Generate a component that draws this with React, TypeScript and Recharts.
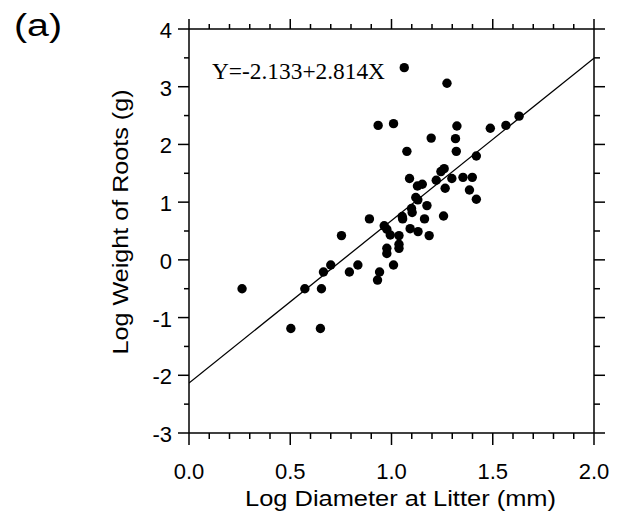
import React from 'react';
import { ScatterChart, Scatter, XAxis, YAxis, ReferenceLine } from 'recharts';

// log diameter at litter (mm)
const logDiameter = [
  1.063, 1.274, 0.934, 1.01, 1.323, 1.488, 1.565, 1.63, 1.196, 1.316,
  1.076, 1.32, 1.419, 1.244, 1.26, 1.089, 1.221, 1.298, 1.353, 1.399,
  1.128, 1.152, 1.265, 1.385, 1.419, 1.12, 1.13, 1.175, 1.099, 1.102,
  1.053, 1.055, 0.891, 1.163, 1.257, 0.964, 0.977, 0.994, 1.037, 1.092,
  1.131, 1.186, 0.753, 1.037, 1.037, 0.977, 0.977, 0.7, 0.834, 1.01,
  0.664, 0.792, 0.941, 0.931, 0.262, 0.572, 0.654, 0.503, 0.649,
];
// log weight of roots (g)
const logWeight = [
  3.33, 3.06, 2.33, 2.36, 2.32, 2.28, 2.33, 2.49, 2.11, 2.1,
  1.88, 1.88, 1.8, 1.53, 1.58, 1.41, 1.38, 1.41, 1.43, 1.43,
  1.28, 1.31, 1.24, 1.21, 1.05, 1.08, 1.04, 0.94, 0.89, 0.82,
  0.75, 0.71, 0.71, 0.71, 0.76, 0.59, 0.53, 0.43, 0.42, 0.54,
  0.49, 0.42, 0.42, 0.27, 0.2, 0.2, 0.11, -0.09, -0.09, -0.09,
  -0.21, -0.21, -0.21, -0.35, -0.5, -0.5, -0.5, -1.19, -1.19,
];

const intercept = -2.133;
const slope = 2.814;

const xTicks = [0, 0.1, 0.2, 0.3, 0.4, 0.5, 0.6, 0.7, 0.8, 0.9, 1, 1.1, 1.2, 1.3, 1.4, 1.5, 1.6, 1.7, 1.8, 1.9, 2];
const xMajor = [0, 0.5, 1, 1.5, 2];
const yTicks = [-3, -2.5, -2, -1.5, -1, -0.5, 0, 0.5, 1, 1.5, 2, 2.5, 3, 3.5, 4];
const yMajor = [-3, -2, -1, 0, 1, 2, 3, 4];

const points = logDiameter.map((x, i) => ({ x, y: logWeight[i] }));
const fitLine = [
  { x: 0, y: intercept + slope * 0 },
  { x: 2, y: intercept + slope * 2 },
];

const FONT = '"Liberation Sans", Arial, Helvetica, sans-serif';
const INK = '#000';

const BottomTick = (props: any) => {
  const { x, y, payload } = props;
  const major = xMajor.includes(payload.value);
  return (
    <g>
      <line x1={x} y1={y} x2={x} y2={y + (major ? 12 : 6)} stroke={INK} strokeWidth={1.5} />
      {major && (
        <text x={x} y={y + 46} textAnchor="middle" fontFamily={FONT} fontSize={22} fill={INK}>
          {payload.value.toFixed(1)}
        </text>
      )}
    </g>
  );
};

const TopTick = (props: any) => {
  const { x, y, payload } = props;
  const major = xMajor.includes(payload.value);
  return <line x1={x} y1={y} x2={x} y2={y - (major ? 10 : 5)} stroke={INK} strokeWidth={1.5} />;
};

const LeftTick = (props: any) => {
  const { x, y, payload } = props;
  const major = yMajor.includes(payload.value);
  return (
    <g>
      <line x1={x} y1={y} x2={x - (major ? 11 : 5)} y2={y} stroke={INK} strokeWidth={1.5} />
      {major && (
        <text x={x - 17} y={y + 9} textAnchor="end" fontFamily={FONT} fontSize={22} fill={INK}>
          {String(payload.value)}
        </text>
      )}
    </g>
  );
};

const RightTick = (props: any) => {
  const { x, y, payload } = props;
  const major = yMajor.includes(payload.value);
  return <line x1={x} y1={y} x2={x + (major ? 11 : 6)} y2={y} stroke={INK} strokeWidth={1.5} />;
};

const Dot = (props: any) => <circle cx={props.cx} cy={props.cy} r={4.7} fill={INK} />;
const NoDot = () => <g />;

export default function App() {
  return (
    <ScatterChart width={608} height={505} margin={{ top: 20, right: 21, bottom: 0, left: 0 }}>
      <XAxis
        type="number"
        dataKey="x"
        domain={[0, 2]}
        ticks={xTicks}
        interval={0}
        height={80}
        tickSize={0}
        tickMargin={0}
        tickLine={false}
        tick={<BottomTick />}
        axisLine={{ stroke: INK, strokeWidth: 1.5 }}
        allowDataOverflow
      />
      <XAxis
        xAxisId="top"
        orientation="top"
        type="number"
        dataKey="x"
        domain={[0, 2]}
        ticks={xTicks}
        interval={0}
        height={1}
        tickSize={0}
        tickMargin={0}
        tickLine={false}
        tick={<TopTick />}
        axisLine={{ stroke: INK, strokeWidth: 1.5 }}
        allowDataOverflow
      />
      <YAxis
        type="number"
        dataKey="y"
        domain={[-3, 4]}
        ticks={yTicks}
        interval={0}
        width={181}
        tickSize={0}
        tickMargin={0}
        tickLine={false}
        tick={<LeftTick />}
        axisLine={{ stroke: INK, strokeWidth: 1.5 }}
        allowDataOverflow
      />
      <YAxis
        yAxisId="right"
        orientation="right"
        type="number"
        dataKey="y"
        domain={[-3, 4]}
        ticks={yTicks}
        interval={0}
        width={1}
        tickSize={0}
        tickMargin={0}
        tickLine={false}
        tick={<RightTick />}
        axisLine={{ stroke: INK, strokeWidth: 1.5 }}
        allowDataOverflow
      />
      <ReferenceLine
        segment={fitLine}
        stroke={INK}
        strokeWidth={1.3}
        ifOverflow="hidden"
      />
      {/* invisible series so the top/right frame axes are drawn */}
      <Scatter data={fitLine} xAxisId="top" yAxisId="right" shape={<NoDot />} isAnimationActive={false} />
      <Scatter data={points} shape={<Dot />} isAnimationActive={false} />
      <text x={6} y={28} fontFamily={FONT} fontSize={31} textLength={48} lengthAdjust="spacingAndGlyphs" fill={INK}>
        (a)
      </text>
      <text
        x={204}
        y={71}
        fontFamily='"Liberation Serif", "Times New Roman", serif'
        fontSize={24}
        textLength={173}
        lengthAdjust="spacingAndGlyphs"
        fill={INK}
      >
        Y=-2.133+2.814X
      </text>
      <text
        x={392.5}
        y={498}
        textAnchor="middle"
        fontFamily={FONT}
        fontSize={22}
        textLength={311}
        lengthAdjust="spacingAndGlyphs"
        fill={INK}
      >
        Log Diameter at Litter (mm)
      </text>
      <text
        x={120}
        y={214}
        textAnchor="middle"
        transform="rotate(-90 120 214)"
        fontFamily={FONT}
        fontSize={22}
        textLength={265}
        lengthAdjust="spacingAndGlyphs"
        fill={INK}
      >
        Log Weight of Roots (g)
      </text>
    </ScatterChart>
  );
}
